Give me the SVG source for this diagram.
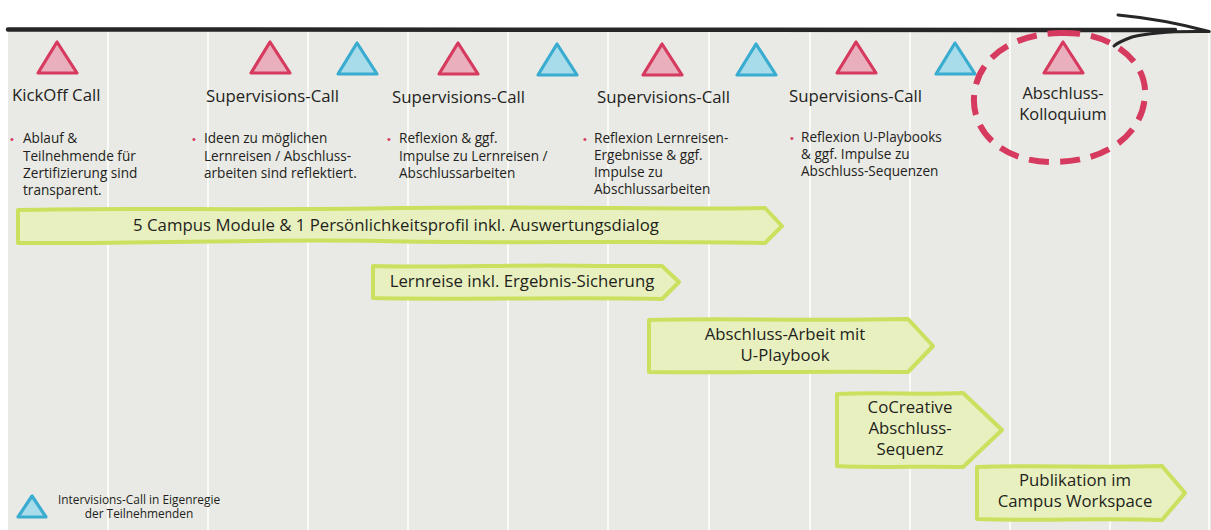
<svg xmlns="http://www.w3.org/2000/svg" width="1211" height="530" viewBox="0 0 1211 530">
<defs>
<style>
.t{font-family:"Open Sans","Noto Sans","Liberation Sans",sans-serif;fill:#231f20}
.h{font-size:16.8px}
.b{font-size:13.6px}
.a{font-size:16.8px}
.l{font-size:11.9px}
.dot{fill:#d63a5e;font-size:11px;font-family:"Liberation Sans",sans-serif}
.red{fill:#e9afbc;stroke:#d63a5e;stroke-width:3.2;stroke-linejoin:round}
.blue{fill:#a9dcea;stroke:#39acd0;stroke-width:3.2;stroke-linejoin:round}
.grn{fill:#e8f0bf;stroke:#cbe05e;stroke-width:4;stroke-linejoin:round}
.vl{stroke:#ffffff;stroke-width:1.5}
</style>
<polygon id="tri" points="0,-16 -19,15 20,15"/>
</defs>
<rect x="8" y="31" width="1203" height="499" fill="#e9e9e5"/>
<g id="grid">
<line class="vl" x1="108" y1="31" x2="108" y2="530"/>
<line class="vl" x1="208" y1="31" x2="208" y2="530"/>
<line class="vl" x1="308" y1="31" x2="308" y2="530"/>
<line class="vl" x1="408" y1="31" x2="408" y2="530"/>
<line class="vl" x1="508" y1="31" x2="508" y2="530"/>
<line class="vl" x1="608" y1="31" x2="608" y2="530"/>
<line class="vl" x1="709" y1="31" x2="709" y2="530"/>
<line class="vl" x1="810" y1="31" x2="810" y2="530"/>
<line class="vl" x1="910" y1="31" x2="910" y2="530"/>
<line class="vl" x1="1010" y1="31" x2="1010" y2="530"/>
<line class="vl" x1="1110" y1="31" x2="1110" y2="530"/>
<line class="vl" x1="1209" y1="31" x2="1209" y2="530"/>
</g>
<g id="connectors" fill="none" stroke="#262626" stroke-linecap="round">
<path d="M8,29.5 L1175,30" stroke-width="4.5"/>
<path d="M1118,15 C1150,18 1185,25 1209,31.5" stroke-width="3"/>
<path d="M1209,31.5 C1180,31 1150,32 1132,37 C1124,40 1117,43 1114,46" stroke-width="3"/>
</g>
<g id="kickoff">
<use href="#tri" class="red" x="57" y="58"/>
<text class="t h" x="12" y="101">KickOff Call</text>
<text class="dot" x="10" y="143">•</text>
<text class="t b"><tspan x="23" y="143">Ablauf &amp;</tspan><tspan x="23" y="161">Teilnehmende für</tspan><tspan x="23" y="178">Zertifizierung sind</tspan><tspan x="23" y="195">transparent.</tspan></text>
</g>
<g id="supervision1">
<use href="#tri" class="red" x="270" y="58"/>
<text class="t h" x="206" y="102">Supervisions-Call</text>
<text class="dot" x="192" y="143">•</text>
<text class="t b"><tspan x="204" y="143">Ideen zu möglichen</tspan><tspan x="204" y="161">Lernreisen / Abschluss-</tspan><tspan x="204" y="178">arbeiten sind reflektiert.</tspan></text>
</g>
<g id="intervision1"><use href="#tri" class="blue" x="357" y="59"/></g>
<g id="supervision2">
<use href="#tri" class="red" x="458" y="59"/>
<text class="t h" x="392" y="103">Supervisions-Call</text>
<text class="dot" x="387" y="143">•</text>
<text class="t b"><tspan x="399" y="143">Reflexion &amp; ggf.</tspan><tspan x="399" y="161">Impulse zu Lernreisen /</tspan><tspan x="399" y="178">Abschlussarbeiten</tspan></text>
</g>
<g id="intervision2"><use href="#tri" class="blue" x="557" y="60"/></g>
<g id="supervision3">
<use href="#tri" class="red" x="662" y="60"/>
<text class="t h" x="597" y="103">Supervisions-Call</text>
<text class="dot" x="583" y="143">•</text>
<text class="t b"><tspan x="594" y="143">Reflexion Lernreisen-</tspan><tspan x="594" y="160">Ergebnisse &amp; ggf.</tspan><tspan x="594" y="177">Impulse zu</tspan><tspan x="594" y="194">Abschlussarbeiten</tspan></text>
</g>
<g id="intervision3"><use href="#tri" class="blue" x="756" y="60"/></g>
<g id="supervision4">
<use href="#tri" class="red" x="856" y="58"/>
<text class="t h" x="789" y="102">Supervisions-Call</text>
<text class="dot" x="790" y="142">•</text>
<text class="t b"><tspan x="801" y="142">Reflexion U-Playbooks</tspan><tspan x="801" y="159">&amp; ggf. Impulse zu</tspan><tspan x="801" y="176">Abschluss-Sequenzen</tspan></text>
</g>
<g id="intervision4"><use href="#tri" class="blue" x="955" y="59"/></g>
<g id="kolloquium">
<use href="#tri" class="red" x="1063" y="58"/>
<path d="M1060,33 C1110,31 1147,60 1145,95 C1143,135 1105,163 1050,162 C1000,161 972,130 974,97 C976,60 1010,34 1060,33 Z" fill="none" stroke="#d63a5e" stroke-width="6" stroke-dasharray="20 11"/>
<text class="t" font-size="16.4" text-anchor="middle"><tspan x="1063" y="99">Abschluss-</tspan><tspan x="1063" y="120">Kolloquium</tspan></text>
</g>
<g id="campus-module">
<path class="grn" d="M18,210 C120,207 250,211 400,208 C550,206 680,210 765,208 L782,226 L765,243 C650,240 500,244 380,241 C250,239 120,244 18,243 Z"/>
<text class="t a" x="396" y="231" text-anchor="middle">5 Campus Module &amp; 1 Persönlichkeitsprofil inkl. Auswertungsdialog</text>
</g>
<g id="lernreise">
<path class="grn" d="M373,266 C450,268 520,264 600,266 L662,266 L679,282 L662,299 C580,297 470,300 373,298 Z"/>
<text class="t a" x="522" y="287" text-anchor="middle">Lernreise inkl. Ergebnis-Sicherung</text>
</g>
<g id="abschlussarbeit">
<path class="grn" d="M649,320 C720,318 800,321 908,319 L933,346 L908,372 C820,371 740,373 649,372 Z"/>
<text class="t a" text-anchor="middle"><tspan x="785" y="340">Abschluss-Arbeit mit</tspan><tspan x="785" y="361">U-Playbook</tspan></text>
</g>
<g id="cocreative">
<path class="grn" d="M837,394 C880,392 920,395 963,393 L1002,430 L963,467 C920,466 880,468 837,466 Z"/>
<text class="t a" text-anchor="middle"><tspan x="910" y="413">CoCreative</tspan><tspan x="910" y="434">Abschluss-</tspan><tspan x="910" y="455">Sequenz</tspan></text>
</g>
<g id="publikation">
<path class="grn" d="M977,467 C1040,465 1100,468 1162,466 L1185,493 L1162,520 C1100,518 1040,521 977,519 Z"/>
<text class="t a" text-anchor="middle"><tspan x="1075" y="486">Publikation im</tspan><tspan x="1075" y="507">Campus Workspace</tspan></text>
</g>
<g id="legend">
<polygon class="blue" points="32,496 18,517 46,517"/>
<text class="t l" text-anchor="middle"><tspan x="139" y="504">Intervisions-Call in Eigenregie</tspan><tspan x="139" y="518">der Teilnehmenden</tspan></text>
</g>
</svg>
